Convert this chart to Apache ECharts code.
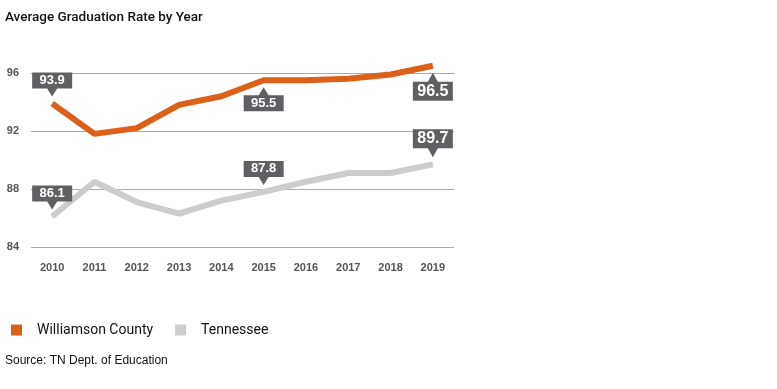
<!DOCTYPE html>
<html>
<head>
<meta charset="utf-8">
<script src="https://cdn.jsdelivr.net/npm/echarts@6/dist/echarts.min.js"></script>
<style>html,body{margin:0;padding:0;background:#fff}#c{width:777px;height:389px}</style>
</head>
<body>
<div id="c"></div>
<script>
const years = ['2010','2011','2012','2013','2014','2015','2016','2017','2018','2019'];
const williamson = [93.9, 91.8, 92.2, 93.8, 94.4, 95.5, 95.5, 95.6, 95.9, 96.5];
const tennessee = [86.1, 88.5, 87.1, 86.3, 87.2, 87.8, 88.5, 89.1, 89.1, 89.7];
const yTicks = [84, 88, 92, 96];
// callouts: [yearIndex, side, big]
const wCallouts = [[0,'above',false],[5,'below',false],[9,'below',true]];
const tCallouts = [[0,'above',false],[5,'above',false],[9,'above',true]];

const FONT = "Roboto,'Liberation Sans',sans-serif";
const BOX = '#5f6063';

function callout(values, spec){
  const [i, side, big] = spec;
  const w = 40, h = big ? 19 : 16, t = big ? 9 : 8, gap = 7;
  const H = h + t;
  let path, offY, lblOff;
  if (side === 'above') {
    path = `path://M0,0 L${w},0 L${w},${h} L${w/2+5},${h} L${w/2},${H} L${w/2-5},${h} L0,${h} Z`;
    offY = -(H/2 + gap);
    lblOff = [0, -t/2];
  } else {
    path = `path://M0,${t} L${w/2-5},${t} L${w/2},0 L${w/2+5},${t} L${w},${t} L${w},${H} L0,${H} Z`;
    offY = H/2 + gap;
    lblOff = [0, t/2];
  }
  return {
    value: [years[i], values[i]],
    symbol: path,
    symbolSize: [w, H],
    symbolOffset: [0, offY],
    itemStyle: {color: BOX, opacity: 1},
    label: {
      show: true, position: 'inside', offset: lblOff,
      color: '#fff', fontFamily: "'Liberation Sans',Arial,sans-serif", fontWeight: 'bold',
      fontSize: big ? 16 : 13,
      formatter: () => values[i].toFixed(1)
    }
  };
}

const chart = echarts.init(document.getElementById('c'), null, {renderer: 'canvas'});
chart.setOption({
  animation: false,
  title: [
    {text: 'Average Graduation Rate by Year', left: 5, top: 11, padding: 0,
     textStyle: {fontFamily: FONT, fontSize: 13.5, fontWeight: 500, color: '#111'}},
    {text: 'Source: TN Dept. of Education', left: 5, top: 355, padding: 0,
     textStyle: {fontFamily: "'Liberation Sans',Arial,sans-serif", fontSize: 12, fontWeight: 'normal', color: '#111'}}
  ],
  legend: {
    left: 11, top: 323, padding: 0, itemWidth: 11, itemHeight: 11, itemGap: 22, icon: 'rect',
    textStyle: {fontFamily: FONT, fontSize: 14, color: '#111', padding: [0,0,0,10]},
    data: ['Williamson County', 'Tennessee']
  },
  grid: {left: 31, right: 323, top: 73, bottom: 142, containLabel: false},
  xAxis: {
    type: 'category', data: years, boundaryGap: true,
    axisLine: {show: false}, axisTick: {show: false},
    axisLabel: {color: '#555', fontFamily: "'Liberation Sans',Arial,sans-serif", fontWeight: 'bold', fontSize: 11, margin: 15}
  },
  yAxis: {
    type: 'value', min: 84, max: 96, interval: 4,
    axisLine: {show: false}, axisTick: {show: false},
    splitLine: {lineStyle: {color: '#aaaaaa', width: 1.2}},
    axisLabel: {color: '#555', fontFamily: "'Liberation Sans',Arial,sans-serif", fontWeight: 'bold', fontSize: 11, margin: 12,
      formatter: v => yTicks.includes(v) ? String(v) : ''}
  },
  series: [
    {name: 'Tennessee', type: 'line', data: tennessee, symbol: 'none', clip: false, z: 2,
     lineStyle: {color: '#cdcdcd', width: 6}, itemStyle: {color: '#cdcdcd'}},
    {name: 'Williamson County', type: 'line', data: williamson, symbol: 'none', clip: false, z: 3,
     lineStyle: {color: '#dc5f1a', width: 6}, itemStyle: {color: '#dc5f1a'}},
    {name: 'tnCallouts', type: 'scatter', clip: false, z: 5, silent: true,
     data: tCallouts.map(s => callout(tennessee, s))},
    {name: 'wcCallouts', type: 'scatter', clip: false, z: 5, silent: true,
     data: wCallouts.map(s => callout(williamson, s))}
  ]
});
</script>
</body>
</html>
